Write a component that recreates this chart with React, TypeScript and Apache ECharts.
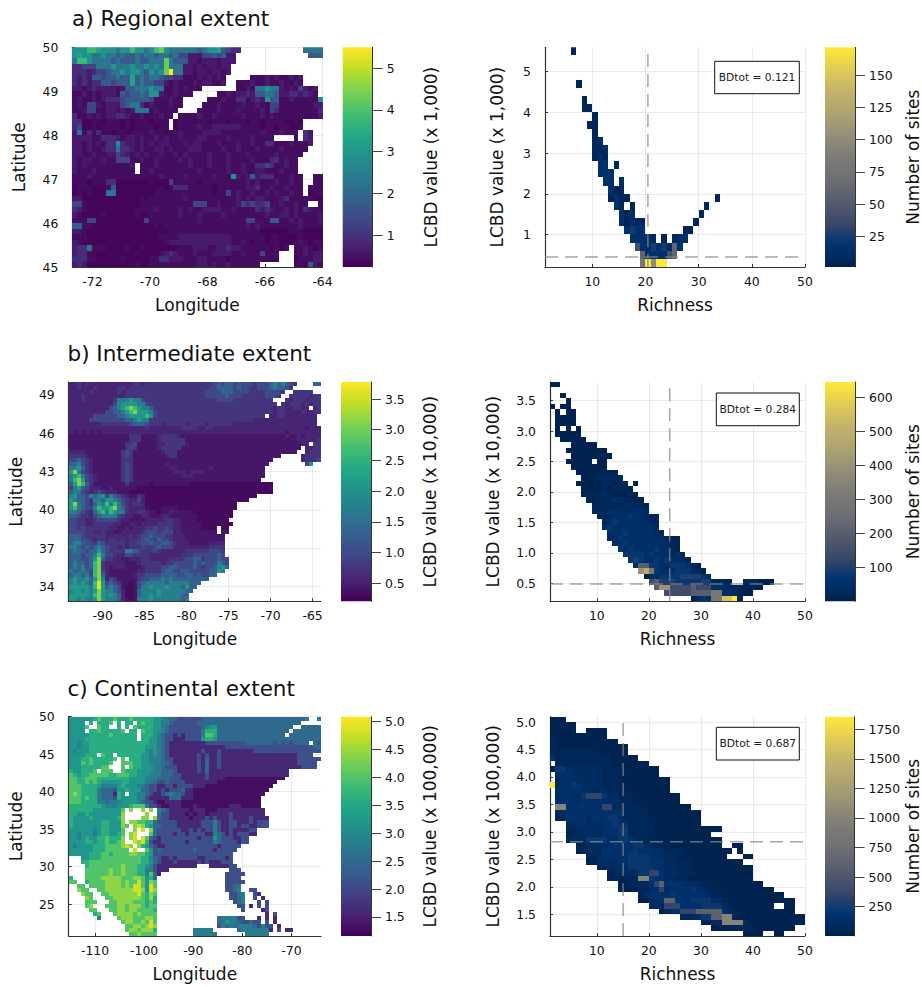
import React, { useEffect, useRef } from "react";
import * as echarts from "echarts";

const FONT = '"DejaVu Sans"';
const VIRIDIS = ["#440154","#482475","#414487","#355f8d","#2a788e","#21918c","#22a884","#44bf70","#7ad151","#bddf26","#fde725"];
const CIVIDIS = ["#00224e","#00336f","#39486b","#575c6d","#6f7073","#7c7b78","#958f78","#aea371","#c3b369","#e1cc55","#fee838"];

// level code -> value tables
const MAP_A_LEVELS: Record<string, number> = {1:.3,2:.42,3:.62,4:.9,5:1.3,6:1.75,7:2.3,8:2.9,9:3.3,a:3.8,b:4.3,c:4.8,d:5.5};
const MAP_B_LEVELS: Record<string, number> = {1:.3,2:.42,3:.56,4:.74,5:1.0,6:1.3,7:1.7,8:2.1,9:2.6,a:3.1,b:3.6};
const MAP_C_LEVELS: Record<string, number> = {1:1.3,2:1.6,3:2.1,4:2.5,5:2.8,6:3.2,7:3.6,8:4.0,9:4.4,a:4.8};
const HIST_A_LEVELS: Record<string, number> = {1:6,2:15,3:25,4:40,5:60,6:80,7:100,8:130,9:171};
const HIST_B_LEVELS: Record<string, number> = {1:5,2:25,3:50,4:75,5:100,6:140,7:200,8:300,9:400,a:480,b:560,c:645};
const HIST_C_LEVELS: Record<string, number> = {1:15,2:60,3:110,4:160,5:220,6:350,7:600,8:1000,9:1857};

// Each space-separated group starts at column 10 * its position; "." or a missing cell is no data.
const MAP_A_ROWS = [
"888aa98887 88a8878ab8 7777776788 96544..... ........77 77",
"8988778776 7667677677 6755333556 5633...... .........6 66",
"7aa8777767 666766777b 7666332333 2333",
"4455577787 778778787b 7773323233 233",
"4443455677 878876878b d773323323 323",
"4343665667 6696767765 5442223232 32.....222 32322323",
"4343446656 6696766553 2322232332 23..222322 32232232",
"3323433332 3667778772 2323222... ....223277 8773232532 3",
"2232323332 6566768832 23222..... 2232334366 7763344343 2",
"2322323444 5666665222 322.....22 2322442343 8662232222 28",
"2325532333 5677423222 322....222 3222232232 2552222222 33",
"2235522332 3237772322 22....2222 3222322223 2542222222 24",
"4223232334 4322322232 2.22223223 2222232223 2322222222 23",
"4411221222 1212221222 .122212212 2212221221 22221121",
"4511212222 1212222122 .122223223 3333322221 22122112",
"3724242212 2122223221 2232222333 3222222223 2223222.43",
"3333224443 2332322323 2232223322 2232222322 22....2.43",
"3323232448 4332323233 2223233222 3222322322 4422232223",
"3323223447 4432322332 3222333222 2322322232 222322222",
"3322322335 4323232232 2323222232 2232223222 22322222",
"3233223225 5522322322 2232322232 2232222322 2442322",
"3232222222 223.222322 2222322232 2232232244 5422322",
"3222322222 222.223222 2222223222 2232232233 2223222",
"2223222222 2222222232 2223222223 2228323634 44222322.. 22",
"2221222441 1111112111 5222221222 2222223232 22322322.. 22",
"1222111261 1111111121 2444222221 2222223342 23223222.2 22",
"1212111771 1111111222 2222222221 2252322322 32322322.1 22",
"3311111111 1111212222 2223222222 2222323233 2223422222 11",
"5521111111 1111222222 2222255522 3222354544 522322322. .2",
"4321111111 1112222322 2232322333 3223222243 4322323243 22",
"3211112111 1112112222 2232223222 2322222222 3223323222 23",
"2225511111 1111152222 2222223222 2222225522 2662232322 23",
"6622111111 1111111212 2222222222 2222223232 2222222322 22",
"3321111111 1111111111 2222222222 2222222221 1111122211 11",
"2221111111 1111111122 2233333333 3332222222 1221111211 11",
"3211111111 1111111112 3333333333 3332232122 1221112321 22",
"3447222111 1211211111 1122233322 3343322222 21212.2232 12",
"3442211111 1112111123 4322232223 3332232225 222...2232 33",
"4442211111 2111112244 3332223322 2212222222 222...1222 33",
"3431111111 1112112222 2222223323 223222222. ......2216 32",
];

const MAP_B_ROWS = [
"3343433333 3333334434 4444444444 4444445656 6565554555 6767654... .66",
"3343334333 3344344444 4444444444 4444455666 6565544555 676654",
"3333343333 3343444444 4444444444 4444555566 6555544445 5554..4444 4",
"3334333333 3333444444 4444444444 4444555556 5554444445 554..44444 344",
"3334333333 3477787754 4444444444 4444444555 5444444444 4...434443 444",
"3333333333 3578888775 4444444444 4444444444 4444444444 44.4344434 344",
"3333333333 56789a9877 6444444444 4444444444 4444444444 4344334433 .34",
"3333333335 566789a888 7544444444 4444444444 4444444444 4344333343 344",
"3333335555 5566788889 8544444444 4444444444 444444444. 3344333333 33.",
"3333355555 5555667877 4444444444 4444444444 4444443333 3333333333 33.",
"3333333344 4444456665 4443444443 4444344444 4333333333 3333333333 33.",
"3333333333 3333333334 3333333344 4433443333 3333333333 3333333332 333",
"3232323233 3333333333 3333333333 3333333333 3333333333 3333233333 333",
"2222222222 2222244422 2234444322 2222222222 2222222222 2222322323 333",
"2222222222 2222244422 2234444442 2222222222 2222222222 2222222333 334",
"2222222222 2222445222 2233444443 2222222222 2222222222 2222222233 .44",
"2222222222 2222454222 2234444422 2222222222 2222222222 22222222.3 344",
"3333222222 2224542222 2223444222 2222222222 2222222222 2222222..3 444",
"4444322222 2224542222 2222344222 2222222222 2222222222 222.....34 444",
"5565432222 2224442222 2222222222 2222222222 2222222222 2.......34 445",
"6675432222 2224542222 2222322222 2222222222 2222222222 .........5 8",
"7786432222 2224542222 2222233222 2222232222 222222222",
"8a75432222 2224542222 2222223332 3333222222 222222222",
"7897543222 2224542222 2222222233 3222222222 222222222",
"79a8543222 2224542222 2222222222 2222222222 22222222",
"68a9642222 2222422222 1222222222 1111111111 1111111111 1",
"5786533322 3222222111 1111111111 1111111111 1111111111 1",
"6775434543 3322211111 1111111111 1111111111 1111111111 1",
"7866576785 7654322431 1111111111 1111111111 1111111",
"8766547768 8765433531 1111111111 1111111111 11111",
"8a76546879 7975434431 1111111111 1111111111 11",
"8976557988 9a76433332 1112222111 1111111111 11",
"7765436897 9877433443 2212232222 2111111111 1",
"6654435677 7754332233 2223322222 2211111111 1",
"5544334555 5543322223 3333443322 2211111111",
"5544334444 4332233233 3344443322 2221111111 1",
"5545444444 3322323334 4544543322 2221111.11",
"5555443343 3223333345 5545553322 2222222.22",
"6665444443 3333343455 6555443332 222222222",
"6665543443 4434344456 5465543332 222222222",
"6776554654 4444344555 6556654333 222223333",
"7765656765 4434344454 4565553333 333334444",
"6766566865 4444776544 4543333334 444445554",
"6665667975 5433554444 3333333344 455555565",
"6665568a64 4332233344 3333344445 5664555655",
"6766569a43 3333222344 4443445555 5656555765",
"6767569a43 2333222234 4445566555 5654556786",
"7667659a53 2222222334 4445665566 555556687",
"6776759a63 2222223445 5556666556 6565566",
"7877868a73 5422222455 6667676666 66666",
"7878769b85 6542212567 7777677777 666",
"8888879b86 7652112577 8777877768 66",
"7887878a87 7653112677 7787777776 6",
"8888879a87 8763112677 8787777766",
"8878778a87 7763212777 8777777767",
];

const MAP_C_ROWS = [
"6666667877 7877787777 7665544333 3334444444 4444444444 4444444445 ..5",
"6666.7.777 8.7.77.787 7665543333 3344444444 4444444444 44444444",
"66668..877 ..7.7.8777 7665433333 3334566444 4444444444 444444..44 444",
"6666.77877 7778.77.87 7665433333 3335777444 4444444444 44444.4444 444",
"6666677777 8777777.77 7654332323 3335887444 4444444444 4444.44444 444",
"6666777777 7777777.77 6654332223 3336776444 4444444444 4444444444 444",
"6656677777 7777777777 6654322222 2222333333 3333444444 4343434444 .43",
"6656677777 7777777776 6654322222 2222222223 3333333333 3333333333 344",
"6566677777 7777777776 5654322222 2223222322 2222223333 3333333333 333",
"6666777.87 7.77777766 5654322222 2232322322 2222222222 2222222333 3..",
"6667787777 78.8.77766 5554332222 2232422322 2222222222 2222222333 333",
"6668787777 8..8887766 5554432222 2232422322 2222222222 2222222333 33",
"6667777788 ...8.87766 6554333222 2232422322 2222222222 2222222233 33",
"7667778.88 8..8777666 6554443222 2232422222 2222222222 22222",
"8767788888 7788877666 5554443322 2222322222 2222222222 22222",
"8877888777 7777766665 5544433322 2222322221 1111111111 1111",
"8877878766 6667766665 5433433332 2222222111 1111111111 11",
"8887777655 5567666554 3322332333 3222111111 1111111111 1",
"8887777544 4366766644 3323233342 2111111111 1111111111",
"8987777544 4276.66554 3223454432 2111111111 111111111",
"8887877544 4376666553 2222244422 2111111111 11111111",
"8887777554 5556666543 3211222211 1111111111 11111111",
"7777777765 5566678885 3321122211 1211111111 22211111",
"7777776666 6668.9..9. 9.54322222 1222111222 222222222",
"7766766666 6669.....9 ..43322221 2122122222 322222222",
"7666676666 6679....99 .943322222 1222323222 3222232222",
"7666666677 6669.99887 7433333222 2223335322 3322232333",
"7666666677 66698.9a97 6443333222 2223335322 3323322333",
"6666665677 6668..9.a. 9433333322 3232335322 3222233",
"6656665677 6678.9a... 8433332332 3333225432 3233322",
"6656766778 7779.9a.a8 4323333333 3323336433 32233",
"6666776778 7789..a9a7 3223333332 3333335433 33233",
"6566667778 8889a9.976 4322333333 3333333233 333",
"6666667778 88888.a..8 6343333333 3433332333 33",
"6666677788 7888899887 6333333333 3333333333 3",
"...6677788 8888888877 5432232333 3322333332 3",
"...7788888 8888888877 6432223222 2232322233 3",
"....788888 8889888776 5322222222 22...22222 33",
"....888888 9889888775 53222..... .......... 333",
"....888888 9889888775 842....... .........3 3333",
"7...888899 9998889986 74........ .........3 333",
"88..788889 9998988a86 98........ .........3 3333",
"..88.88889 999898aa86 a8........ .........3 344",
"..988..889 999999aa96 a9........ .........3 345..33",
"...988..88 9999999a87 98........ .......... 3345..32",
"....98...8 8999999987 97........ .......... 3345..3.2",
"....888... 8899998887 87........ .......... .345...3.3",
"....89...8 8899899987 88........ .......... ..33.2.3.3",
".....88... 8899899888 87........ .......... ...3....23",
"......78.. .899998988 88........ .......... .........2 .3",
".......5.. ..89998889 98........ .......455 5533...2.2 .2",
".......... ...8998898 a8........ .......446 55433433.3 .2",
".......... ....889989 a9........ .......354 5455554353 3.2",
".......... ....899899 97........ .55555.... ..45555555 2.3.22",
".......... .....88988 88........ .555555... ....555555",
];

// One list per bin row, top to bottom: [first richness, codes] runs.
type Run = [number, string];
const HIST_A_ROWS: Run[][] = [
[[6,"1"]],[],[],[],[[7,"1"]],[],[[8,"1"]],[[8,"11"]],[[10,"1"]],[[9,"11"]],[[10,"1"]],[[10,"12"]],[[10,"112"]],[[10,"121"]],
[[11,"22"],[14,"1"]],[[11,"222"]],[[12,"22"],[15,"2"]],[[13,"211"]],[[13,"1211"],[33,"1"]],[[14,"21"],[17,"1"],[31,"1"]],[[15,"212"],[30,"1"]],[[15,"21211"],[29,"1"]],
[[16,"2322"],[27,"11"]],[[17,"22221"],[23,"1"],[25,"122"]],[[18,"422323252"]],[[19,"5222245"]],[[19,"69799"]],
];
const HIST_B_ROWS: Run[][] = [
[[1,"11"]],[],[[3,"1"]],[[4,"1"]],[[1,"1"],[3,"11"]],[[2,"1"],[4,"11"]],[[2,"1111"]],[[2,"1111"]],[[2,"1"],[4,"1"],[6,"1"]],[[2,"11111"]],[[3,"11111"]],[[5,"11111"]],[[4,"11111111"]],[[5,"11111111"]],
[[4,"11111"],[10,"11"]],[[5,"1111111"]],[[6,"11111121"]],[[7,"11122222"]],[[6,"1111122122"],[17,"1"]],[[7,"1111212211"]],[[7,"12223211121"]],[[8,"21222332211"]],
[[9,"22222233221"]],[[9,"22233322332"]],[[10,"222333433222"]],[[11,"23433333322"]],[[11,"34333333332"]],[[12,"33343333322"]],[[12,"33433333333211"]],[[13,"3343333333321"]],
[[14,"434333343321"]],[[15,"444434333232"]],[[16,"454334343332"]],[[17,"3774433444321"]],[[18,"9a84333444321"]],[[19,"1334444555543"]],
[[20,"6755544444552"],[33,"222"],[38,"222"],[41,"111"]],[[21,"799666676663332221111"]],[[23,"66666777788332111"]],[[28,"134388bbc2"]],
];
const HIST_C_ROWS: Run[][] = [
[[1,"111"]],[[1,"11111"]],[[1,"11111"],[8,"1111"]],[[1,"11111111111"]],[[1,"2111111111111"]],[[1,"211111111111111"]],[[1,"212222222111111"]],[[1,"42222222222111111"]],
[[2,"222222222221111111"]],[[1,"155333333322221111111"]],[[2,"34433333322222111111"]],[[2,"2443333332222111111111"]],[[1,"93445433332222111111111"]],[[2,"3444443333222211111111"]],
[[2,"344335666533222111111111"]],[[2,"444434444333222111111111"]],[[2,"88444444466332222111111111"]],[[2,"3344444444444222221111111111"]],[[2,"2244443444554222221111111111"]],
[[4,"33443334454422222111111111"]],[[4,"223333334455222221111111111111"]],[[4,"1233333444552222111111111111"]],[[4,"233355553355432221111111111111"]],
[[6,"1233333444455332221111111111"],[36,"11"]],[[6,"123334444445444332222111111111"],[37,"1"]],[[8,"223444445555443322111111111"],[38,"11"]],[[8,"113333445555444332221111111111"]],
[[10,"223333555554433222111111111111"]],[[12,"2233335566433322211111111111"]],[[12,"1222228854433222111111111111"]],
[[14,"1122334674444333221111111111"]],[[14,"111122346344445332211111111111"]],[[18,"2344445444444322111111111111"]],[[18,"113347744455553321111111111111"]],
[[20,"333666444455553211111111"],[46,"11"]],[[22,"13346667777743111111111111"]],[[26,"223355778821111111111111"]],[[30,"11338888311111111111"]],
[[32,"1111222211111111"]],[[38,"1111"],[44,"11"]],
];

const MAP_TITLES = ["a) Regional extent", "b) Intermediate extent", "c) Continental extent"];
const BD_TEXTS = ["BDtot = 0.121", "BDtot = 0.284", "BDtot = 0.687"];
const MAP_NAMES = ["LCBD value (x 1,000)", "LCBD value (x 10,000)", "LCBD value (x 100,000)"];

const LON_TICKS = [[-72,-70,-68,-66,-64],[-90,-85,-80,-75,-70,-65],[-110,-100,-90,-80,-70]];
const LAT_TICKS = [[45,46,47,48,49,50],[34,37,40,43,46,49],[25,30,35,40,45,50]];
const LON_RANGE = [[-72.7,-64],[-94.05,-64],[-115.35,-64]];
const LAT_RANGE = [[45,50],[32.85,50],[20.73,50]];
const MAP_CB_RANGE = [[.24,5.5],[.207,3.777],[1.16,5.08]];
const MAP_CB_TICKS = [[1,2,3,4,5],[.5,1,1.5,2,2.5,3,3.5],[1.5,2,2.5,3,3.5,4,4.5,5]];
const RICH_TICKS = [10,20,30,40,50];
const LCBD_RANGE = [[.2,5.6],[.204,3.807],[1.106,5.097]];
const LCBD_TICKS = [[1,2,3,4,5],[.5,1,1.5,2,2.5,3,3.5],[1.5,2,2.5,3,3.5,4,4.5,5]];
const RICH_MIN = [1.1,1,1];
const COUNT_RANGE = [[1.2,171.5],[1,645],[1,1857]];
const COUNT_TICKS = [[25,50,75,100,125,150],[100,200,300,400,500,600],[250,500,750,1000,1250,1500,1750]];
const VLINE = [20.45,24,15.05];
const HLINE = [.443,.49,2.82];

const hex = (s: string) => [1,3,5].map(i => parseInt(s.slice(i,i+2),16));
const sample = (stops: string[], t: number) => {
  const p = Math.max(0,Math.min(1,t))*(stops.length-1), i = Math.min(Math.floor(p),stops.length-2), f = p-i;
  const a = hex(stops[i]), b = hex(stops[i+1]);
  return `rgb(${a.map((v,k)=>Math.round(v+(b[k]-v)*f)).join(",")})`;
};

const gridData = (rows: string[], levels: Record<string,number>, lon: number[], lat: number[], ncol: number) => {
  const dx = (lon[1]-lon[0])/ncol, dy = (lat[1]-lat[0])/rows.length, out: number[][] = [];
  rows.forEach((row,r) => row.split(" ").forEach((grp,g) => [...grp].forEach((ch,i) => {
    const v = levels[ch];
    if (v!==undefined) out.push([lon[0]+(g*10+i)*dx, lat[1]-(r+1)*dy, v]);
  })));
  return { out, dx, dy };
};
const histData = (rows: Run[][], levels: Record<string,number>, yr: number[]) => {
  const dy = (yr[1]-yr[0])/rows.length, out: number[][] = [];
  rows.forEach((runs,k) => runs.forEach(([s,codes]) => [...codes].forEach((ch,i)=>{
    const v = levels[ch];
    if (v!==undefined) out.push([s+i, yr[1]-(k+1)*dy, v]);
  })));
  return { out, dy };
};

const LAYOUT = [
  { map:[72.3,47.3,250.2,219.7], mapCb:[342.7,47.3,30,219.7], hist:[545,47.3,260,219.7], histCb:[825,47.3,30.3,219.7], titleX:72, titleY:7, box:[714.7,61.3,84.6,32.4], latGap:45, lcbdGap:40 },
  { map:[68.7,382,252.3,219.3], mapCb:[341,382,30,219.3], hist:[550,382,255,219.3], histCb:[825,382,30.3,219.3], titleX:67.5, titleY:342, box:[716.3,393,83,32.7], latGap:44, lcbdGap:49 },
  { map:[68.7,716.7,252.3,219.3], mapCb:[341,716.7,30,219.3], hist:[550,716.7,255,219.3], histCb:[825,716.7,30.3,219.3], titleX:67.5, titleY:677, box:[716.3,727.3,83,32.7], latGap:44, lcbdGap:49 },
];

export default function App() {
  const ref = useRef<HTMLDivElement>(null);
  useEffect(() => {
    document.body.style.margin = "0";
    const chart = echarts.init(ref.current!, null, { renderer: "svg" });
    const grids: any[] = [], xAxes: any[] = [], yAxes: any[] = [], series: any[] = [], titles: any[] = [], graphics: any[] = [];
    const AXC = "#333", TXT = "#111";
    const makeGrid = (b: number[]) => { grids.push({ left:b[0], top:b[1], width:b[2], height:b[3], containLabel:false }); return grids.length-1; };
    const axis = (g: number, min: number, max: number, ticks: number[], dec: number, name: string, gap: number, pos: string, rotate?: number, labelMargin=14) => ({
      gridIndex:g, type:"value", min, max, position:pos, name, nameLocation:"middle", nameGap:gap, nameRotate:rotate,
      nameTextStyle:{ fontFamily:FONT, fontSize:17, color:TXT },
      axisLine:{ show:true, onZero:false, lineStyle:{ color:AXC, width:1.2 } },
      axisTick:{ show:true, inside:true, length:3, customValues:ticks, lineStyle:{ color:AXC, width:1 } },
      axisLabel:{ show:true, customValues:ticks, margin:labelMargin, fontFamily:FONT, fontSize:12.4, color:TXT, formatter:(v:number)=>v.toFixed(dec) },
      splitLine:{ show:true, lineStyle:{ color:"rgba(0,0,0,0.08)", width:1 } },
    });
    const cells = (g: number, data: number[][], dx: number, dy: number, stops: string[], lo: number, hi: number) => ({
      type:"custom", coordinateSystem:"cartesian2d", xAxisIndex:g, yAxisIndex:g, clip:true, silent:true, data, encode:{ x:0, y:1 }, z:2,
      renderItem:(_: any, api: any) => {
        const x = api.value(0), y = api.value(1), a = api.coord([x,y+dy]), b = api.coord([x+dx,y]);
        const x0 = Math.round(a[0]), y0 = Math.round(a[1]), x1 = Math.round(b[0]), y1 = Math.round(b[1]);
        return { type:"rect", shape:{ x:x0, y:y0, width:x1-x0, height:y1-y0 }, style:{ fill:sample(stops,(api.value(2)-lo)/(hi-lo)) } };
      },
    });
    const colorbar = (b: number[], range: number[], ticks: number[], dec: number, stops: string[], name: string, gap: number) => {
      const g = makeGrid(b);
      xAxes.push({ gridIndex:g, type:"value", min:0, max:1, show:false });
      const ax: any = axis(g, range[0], range[1], ticks, dec, name, gap, "right", 90, 14);
      ax.axisTick = { show:true, inside:false, length:10, customValues:ticks, lineStyle:{ color:"#444", width:1 } };
      ax.axisLine.lineStyle = { color:"#333", width:1 };
      ax.splitLine = { show:false };
      ax.z = 5;
      yAxes.push(ax);
      series.push({
        type:"custom", coordinateSystem:"cartesian2d", xAxisIndex:g, yAxisIndex:g, silent:true, data:[[0,range[0],range[1]]], encode:{ x:0, y:[1,2] },
        renderItem:(_: any, api: any) => {
          const a = api.coord([0,api.value(2)]), c = api.coord([1,api.value(1)]);
          const colorStops = stops.map((color,i)=>({ offset:1-i/(stops.length-1), color })).reverse();
          return { type:"rect", shape:{ x:a[0], y:a[1], width:c[0]-a[0], height:c[1]-a[1] }, style:{ fill:new echarts.graphic.LinearGradient(0,0,0,1,colorStops) } };
        },
      });
    };
    const mapRows = [MAP_A_ROWS,MAP_B_ROWS,MAP_C_ROWS], mapLv = [MAP_A_LEVELS,MAP_B_LEVELS,MAP_C_LEVELS], mapCols=[52,63,63];
    const histRows = [HIST_A_ROWS,HIST_B_ROWS,HIST_C_ROWS], histLv = [HIST_A_LEVELS,HIST_B_LEVELS,HIST_C_LEVELS];
    LAYOUT.forEach((L,i) => {
      titles.push({ text:MAP_TITLES[i], left:L.titleX, top:L.titleY, padding:0, textStyle:{ fontFamily:FONT, fontSize:21.5, fontWeight:"normal", color:TXT } });
      const gm = makeGrid(L.map);
      xAxes.push(axis(gm, LON_RANGE[i][0], LON_RANGE[i][1], LON_TICKS[i], 0, "Longitude", 29, "bottom", undefined, 8));
      yAxes.push(axis(gm, LAT_RANGE[i][0], LAT_RANGE[i][1], LAT_TICKS[i], 0, "Latitude", L.latGap, "left", 90));
      const m = gridData(mapRows[i], mapLv[i], LON_RANGE[i], LAT_RANGE[i], mapCols[i]);
      series.push(cells(gm, m.out, m.dx, m.dy, VIRIDIS, MAP_CB_RANGE[i][0], MAP_CB_RANGE[i][1]));
      colorbar(L.mapCb, MAP_CB_RANGE[i], MAP_CB_TICKS[i], i===0?0:1, VIRIDIS, MAP_NAMES[i], 50);
      const gh = makeGrid(L.hist);
      xAxes.push(axis(gh, RICH_MIN[i], 50, RICH_TICKS, 0, "Richness", 29, "bottom", undefined, 8));
      yAxes.push(axis(gh, LCBD_RANGE[i][0], LCBD_RANGE[i][1], LCBD_TICKS[i], i===0?0:1, MAP_NAMES[i], L.lcbdGap, "left", 90));
      const h = histData(histRows[i], histLv[i], LCBD_RANGE[i]);
      series.push(cells(gh, h.out, 1, h.dy, CIVIDIS, COUNT_RANGE[i][0], COUNT_RANGE[i][1]));
      const dash = { color:"#888", opacity:.75, width:1.5, type:[13,7] };
      series.push({ type:"line", xAxisIndex:gh, yAxisIndex:gh, symbol:"none", silent:true, z:3, lineStyle:dash, data:[[VLINE[i],LCBD_RANGE[i][0]],[VLINE[i],LCBD_RANGE[i][1]]] });
      series.push({ type:"line", xAxisIndex:gh, yAxisIndex:gh, symbol:"none", silent:true, z:3, lineStyle:dash, data:[[RICH_MIN[i],HLINE[i]],[50,HLINE[i]]] });
      colorbar(L.histCb, COUNT_RANGE[i], COUNT_TICKS[i], 0, CIVIDIS, "Number of sites", 49);
      const [bx,by,bw,bh] = L.box;
      graphics.push({ type:"rect", z:100, shape:{ x:bx, y:by, width:bw, height:bh }, style:{ fill:"#fff", stroke:"#111", lineWidth:1 } });
      graphics.push({ type:"text", z:101, x:bx+bw/2, y:by+bh/2, style:{ text:BD_TEXTS[i], fill:"#222", font:`10.67px ${FONT}`, textAlign:"center", textVerticalAlign:"middle" } });
    });
    chart.setOption({ animation:false, backgroundColor:"#fff", title:titles, grid:grids, xAxis:xAxes, yAxis:yAxes, series, graphic:{ elements:graphics } });
    return () => chart.dispose();
  }, []);
  return <div ref={ref} style={{ width:922, height:987 }} />;
}
